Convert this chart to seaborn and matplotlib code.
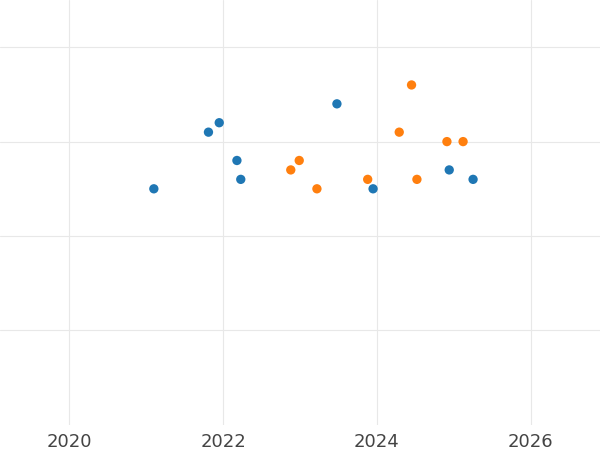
import matplotlib
matplotlib.use("Agg")
import matplotlib.pyplot as plt
import seaborn as sns
import pandas as pd

blue_x = [2021.10, 2021.81, 2021.95, 2022.18, 2022.23, 2023.48, 2023.95, 2024.94, 2025.25]
blue_y = [2.5, 3.1, 3.2, 2.8, 2.6, 3.4, 2.5, 2.7, 2.6]
orange_x = [2022.88, 2022.99, 2023.22, 2023.88, 2024.29, 2024.45, 2024.52, 2024.91, 2025.12]
orange_y = [2.7, 2.8, 2.5, 2.6, 3.1, 3.6, 2.6, 3.0, 3.0]

df = pd.DataFrame({
    "x": blue_x + orange_x,
    "y": blue_y + orange_y,
    "group": ["a"] * len(blue_x) + ["b"] * len(orange_x),
})

sns.set_theme(style="white")
fig = plt.figure(figsize=(6, 4.5), dpi=100)
ax = fig.add_axes([0, 0.056, 1, 0.944])
sns.scatterplot(data=df, x="x", y="y", hue="group",
                palette=["#1f77b4", "#ff7f0e"], s=45, edgecolor="none",
                legend=False, ax=ax, zorder=3)

ax.set_xlim(2019.1, 2026.9)
ax.set_ylim(0, 4.5)
ax.set_xticks([2020, 2022, 2024, 2026])
ax.set_yticks([1, 2, 3, 4])
ax.set_yticklabels([])
ax.grid(True, color="#e8e8e8", linewidth=0.8)
ax.tick_params(axis="x", labelsize=13, colors="#444444", length=0, pad=6)
ax.tick_params(axis="y", length=0)
ax.set_xlabel("")
ax.set_ylabel("")
for s in ax.spines.values():
    s.set_visible(False)

fig.savefig("out.png", dpi=100)
